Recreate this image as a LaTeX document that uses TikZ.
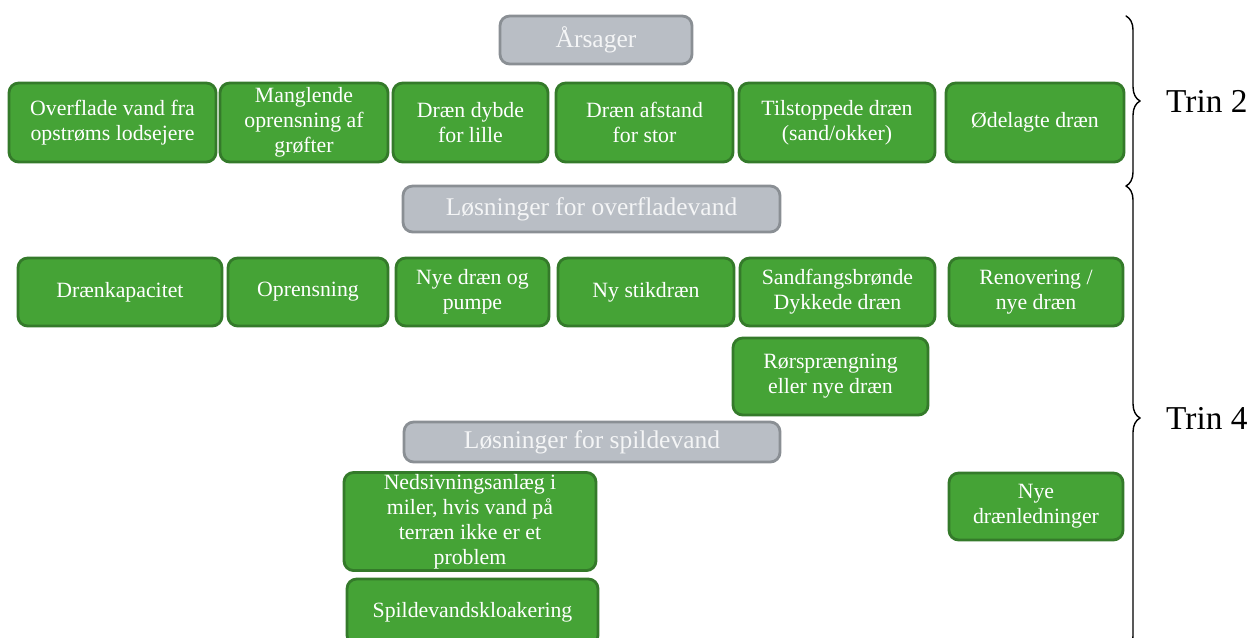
\documentclass[tikz,border=0pt]{standalone}
\usepackage{fontspec}
\setmainfont{Liberation Serif}
\usetikzlibrary{decorations.pathreplacing}
\definecolor{boxgreen}{RGB}{69,163,54}
\definecolor{greenedge}{RGB}{52,122,42}
\definecolor{headgray}{RGB}{185,190,197}
\definecolor{grayedge}{RGB}{138,143,148}
\definecolor{headtext}{RGB}{244,245,246}
\begin{document}
\begin{tikzpicture}[x=0.02cm, y=-0.02cm, line join=round, line cap=round, font=\fontsize{12.4}{14.2}\selectfont]
\tikzset{
  gbox/.style={draw=greenedge, fill=boxgreen, line width=1.6pt, rounded corners=5.5pt, text=white, align=center, inner sep=1pt},
  hbox/.style={draw=grayedge, fill=headgray, line width=1.6pt, rounded corners=5.5pt, text=headtext, align=center, inner sep=1pt, font=\fontsize{14.5}{17}\selectfont},
  sz/.style 2 args={minimum width=#1*0.02cm, minimum height=#2*0.02cm},
  trin/.style={anchor=west, font=\fontsize{19}{22}\selectfont}
}
\useasboundingbox (0,0) rectangle (1252,637);
% trin 2: aarsager
\node[hbox, sz={192}{48}] (aarsager) at (596,40) {Årsager};
\def\ya{122.5}
\node[gbox, sz={207}{79}] (overflade) at (112.5,\ya) {Overflade vand fra\\opstrøms lodsejere};
\node[gbox, sz={168}{79}] (manglende) at (304,\ya) {Manglende\\oprensning af\\grøfter};
\node[gbox, sz={155}{79}] (dybde) at (470.5,\ya) {Dræn dybde\\for lille};
\node[gbox, sz={177}{79}] (afstand) at (644.5,\ya) {Dræn afstand\\for stor};
\node[gbox, sz={196}{79}] (tilstop) at (837,\ya) {Tilstoppede dræn\\(sand/okker)};
\node[gbox, sz={178}{79}] (oedelagt) at (1035,\ya) {Ødelagte dræn};
% trin 4: loesninger
\node[hbox, sz={377}{46}] (overfladevand) at (591.5,209) {Løsninger for overfladevand};
\def\yb{292}
\node[gbox, sz={204}{68}] (kapacitet) at (120,\yb) {Drænkapacitet};
\node[gbox, sz={160}{68}] (oprensning) at (308,\yb) {Oprensning};
\node[gbox, sz={153}{68}] (pumpe) at (472.5,\yb) {Nye dræn og\\pumpe};
\node[gbox, sz={176}{68}] (stikdraen) at (646,\yb) {Ny stikdræn};
\node[gbox, sz={195}{68}] (sandfang) at (837.5,\yb) {Sandfangsbrønde\\Dykkede dræn};
\node[gbox, sz={174}{68}] (renovering) at (1036,\yb) {Renovering /\\nye dræn};
\node[gbox, sz={195}{77}] (roersp) at (830.5,376.5) {Rørsprængning\\eller nye dræn};
\node[hbox, sz={376}{40}] (spildevand) at (592,442) {Løsninger for spildevand};
\node[gbox, sz={252}{97}] (nedsiv) at (470,521.5) {Nedsivningsanlæg i\\miler, hvis vand på\\terræn ikke er et\\problem};
\node[gbox, sz={251}{66}] (kloak) at (472.5,612) {Spildevandskloakering};
\node[gbox, sz={174}{67}] (draenledn) at (1036,506.5) {Nye\\drænledninger};
% braces
\coordinate (b2top) at (1126,16);
\coordinate (b2bot) at (1126,186);
\coordinate (b4top) at (1126,186);
\coordinate (b4bot) at (1126,650);
\draw[line width=0.8pt, decorate, decoration={brace, amplitude=8pt}] (b2top) -- (b2bot);
\draw[line width=0.8pt, decorate, decoration={brace, amplitude=8pt}] (b4top) -- (b4bot);
\node[trin] (trin2) at (1160,101) {Trin 2};
\node[trin] (trin4) at (1160,418) {Trin 4};
\end{tikzpicture}
\end{document}
